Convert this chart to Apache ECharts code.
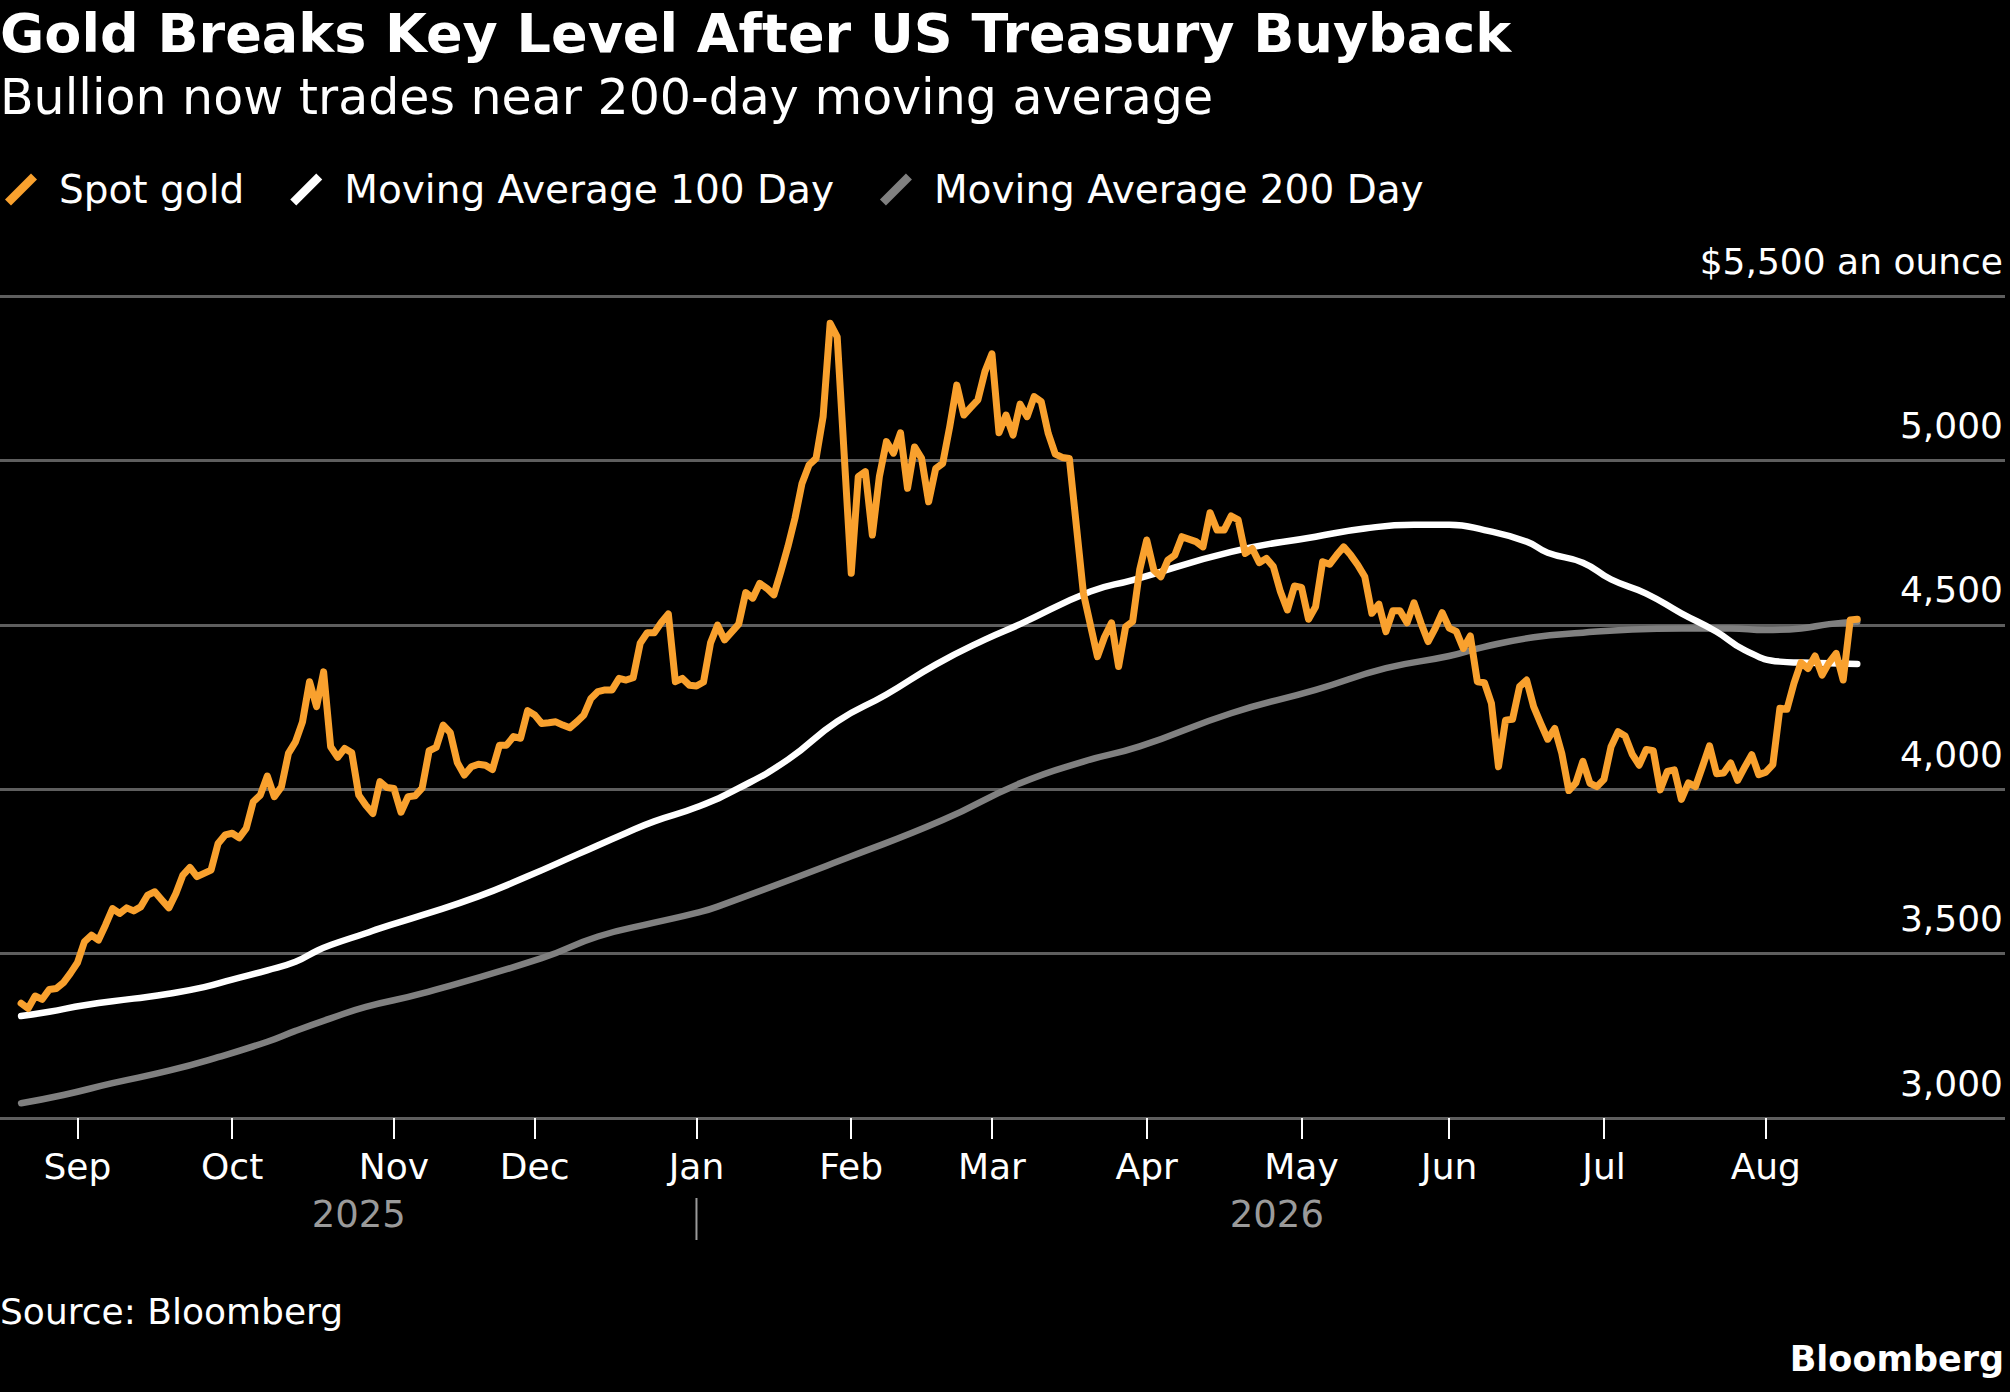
<!DOCTYPE html>
<html>
<head>
<meta charset="utf-8">
<title>Gold Breaks Key Level After US Treasury Buyback</title>
<script src="https://cdn.jsdelivr.net/npm/echarts@6/dist/echarts.min.js"></script>
<style>
  html, body { margin: 0; padding: 0; background: #000; }
  #main { width: 2010px; height: 1392px; }
</style>
</head>
<body>
<div id="main"></div>
<script>
// category range of the weekday axis (a few empty days pad both ends)
var AXIS_FROM = '2025-08-15';
var AXIS_TO = '2026-09-18';
var SPOT_START = '2025-08-20';
var SPOT_END = '2026-08-20';

// spot gold, one value per weekday from SPOT_START (null = not read)
var spotGold = [
  3349, 3333, 3371, 3361, 3391, 3394, 3411, 3440, 3472, 3536,
  3556, 3541, 3587, 3637, 3622, 3639, 3630, 3642, 3678, 3688,
  3663, 3639, 3683, 3739, 3762, 3734, null, 3754, 3835, 3861,
  3866, 3852, 3881, 3962, 3982, 4040, 3977, 4007, 4109, 4144,
  4205, 4327, 4251, 4357, 4129, 4097, 4124, 4111, 3982, 3951,
  3926, 4023, 4005, 4002, 3930, 3977, 3980, 4003, 4117, 4127,
  4195, 4172, 4081, 4043, 4068, 4076, 4073, 4060, 4134, 4134,
  4160, 4155, 4239, 4226, 4200, 4202, 4205, 4195, 4187, 4205,
  4226, 4276, 4297, 4302, 4302, 4337, 4332, 4339, 4444, 4476,
  4476, 4507, 4533, 4327, 4337, 4316, 4314, 4326, 4445, 4499,
  4454, null, 4502, 4598, 4581, 4626, 4611, 4591, 4662, 4738,
  4824, 4930, 4986, 5006, 5133, 5417, 5376, null, 4657, 4951,
  4966, 4773, 4951, 5057, 5022, 5084, 4915, 5041, 5006, 4874,
  4975, 4991, 5103, 5229, 5138, 5161, 5184, 5270, 5324, 5084,
  5138, 5077, 5171, 5133, 5194, 5179, 5082, 5019, 5009, 5006,
  null, 4596, null, 4403, 4463, 4506, 4373, 4494, 4510, 4667,
  4758, 4667, 4646, 4697, 4712, 4768, null, 4753, 4737, 4841,
  4788, 4788, 4831, 4819, 4717, 4732, 4689, 4702, 4677, 4601,
  4545, 4618, 4614, 4517, 4555, 4692, 4684, 4712, 4737, 4712,
  4682, 4646, 4535, 4563, 4479, 4543, 4543, 4506, 4567, 4504,
  4449, 4489, 4537, 4490, 4480, 4428, 4466, 4327, 4324, 4261,
  4068, 4210, 4213, 4312, 4332, 4251, 4200, 4152, 4185, 4109,
  3996, 4019, 4085, 4018, 4008, 4030, 4129, 4175, 4162, 4107,
  4073, 4121, 4117, 3998, 4054, 4059, 3969, 4019, 4008, 4069,
  4132, 4047, 4049, 4080, 4027, 4067, 4105, 4044, 4052, 4075,
  4246, 4243, 4322, 4385, 4367, 4405, 4347, 4385, 4413, 4332,
  4515, 4517
];

// moving averages, read at points along the curves
var ma100 = [
  ['2025-08-20', 3310], ['2025-08-26', 3323], ['2025-09-02', 3343], ['2025-09-11', 3363],
  ['2025-09-18', 3378], ['2025-09-25', 3398], ['2025-10-01', 3421], ['2025-10-08', 3449],
  ['2025-10-14', 3475], ['2025-10-17', 3508], ['2025-10-21', 3526], ['2025-10-28', 3562],
  ['2025-10-30', 3577], ['2025-11-07', 3617], ['2025-11-19', 3674], ['2025-11-28', 3735],
  ['2025-12-09', 3801], ['2025-12-18', 3867], ['2025-12-24', 3902], ['2026-01-01', 3945],
  ['2026-01-09', 4003], ['2026-01-20', 4090], ['2026-01-29', 4206], ['2026-02-09', 4288],
  ['2026-02-18', 4379], ['2026-02-27', 4455], ['2026-03-06', 4502], ['2026-03-20', 4601],
  ['2026-03-30', 4636], ['2026-04-17', 4722], ['2026-05-05', 4768], ['2026-05-14', 4793],
  ['2026-05-25', 4804], ['2026-06-01', 4804], ['2026-06-08', 4788], ['2026-06-16', 4753],
  ['2026-06-19', 4719], ['2026-06-26', 4689], ['2026-07-02', 4638], ['2026-07-09', 4595],
  ['2026-07-16', 4535], ['2026-07-23', 4479], ['2026-07-29', 4423], ['2026-08-05', 4388],
  ['2026-08-10', 4385], ['2026-08-14', 4383], ['2026-08-20', 4381]
];

var ma200 = [
  ['2025-08-20', 3045], ['2025-08-28', 3070], ['2025-09-08', 3106], ['2025-09-18', 3144],
  ['2025-09-29', 3185], ['2025-10-08', 3232], ['2025-10-14', 3265], ['2025-10-21', 3303],
  ['2025-10-28', 3338], ['2025-11-07', 3379], ['2025-12-02', 3486], ['2025-12-12', 3552],
  ['2025-12-24', 3594], ['2026-01-01', 3624], ['2026-01-06', 3643], ['2026-02-02', 3796],
  ['2026-02-19', 3906], ['2026-03-06', 4018], ['2026-03-19', 4084], ['2026-03-31', 4130],
  ['2026-04-17', 4231], ['2026-05-05', 4302], ['2026-05-19', 4368], ['2026-06-01', 4405],
  ['2026-06-08', 4433], ['2026-06-17', 4462], ['2026-06-26', 4476], ['2026-07-07', 4486],
  ['2026-07-16', 4489], ['2026-07-27', 4489], ['2026-08-03', 4484], ['2026-08-10', 4489],
  ['2026-08-14', 4502], ['2026-08-20', 4509]
];

var yTicks = [3000, 3500, 4000, 4500, 5000, 5500];
var monthNames = ['Jan', 'Feb', 'Mar', 'Apr', 'May', 'Jun', 'Jul', 'Aug', 'Sep', 'Oct', 'Nov', 'Dec'];
var seriesNames = ['Spot gold', 'Moving Average 100 Day', 'Moving Average 200 Day'];
var seriesColors = ['#f9a12e', '#ffffff', '#808080'];

var FONT = 'DejaVu Sans';

function weekdays(from, to) {
  var out = [];
  var d = new Date(from + 'T00:00:00Z');
  var end = new Date(to + 'T00:00:00Z');
  while (d <= end) {
    var w = d.getUTCDay();
    if (w !== 0 && w !== 6) out.push(d.toISOString().slice(0, 10));
    d.setUTCDate(d.getUTCDate() + 1);
  }
  return out;
}

var days = weekdays(AXIS_FROM, AXIS_TO);
var spotOffset = days.indexOf(SPOT_START);
var spotData = days.map(function (d, i) {
  var k = i - spotOffset;
  return (k >= 0 && k < spotGold.length) ? spotGold[k] : null;
});

// first weekday of each month, inside the data span
function isMonthStart(index) {
  if (index === 0) return false;
  var d = days[index];
  if (d > SPOT_END) return false;
  return d.slice(5, 7) !== days[index - 1].slice(5, 7);
}

var slash = 'path://M0,26 L26,0 L32,6 L6,32 Z';

var chart = echarts.init(document.getElementById('main'), null, { renderer: 'svg' });

option = {
  backgroundColor: '#000000',
  animation: false,
  textStyle: { fontFamily: FONT },
  grid: { left: 0, right: 5, top: 296, bottom: 274, containLabel: false },
  legend: {
    left: 0,
    top: 165,
    itemWidth: 36,
    itemHeight: 32,
    itemGap: 46,
    selectedMode: false,
    textStyle: { color: '#ffffff', fontSize: 39, fontFamily: FONT, padding: [0, 0, 0, 15] },
    data: seriesNames.map(function (n, i) {
      return { name: n, icon: slash, itemStyle: { color: seriesColors[i] } };
    })
  },
  xAxis: {
    type: 'category',
    data: days,
    boundaryGap: false,
    axisLine: { show: false },
    axisTick: {
      show: true,
      alignWithLabel: true,
      interval: function (index) { return isMonthStart(index); },
      length: 21,
      lineStyle: { color: '#ffffff', width: 2 }
    },
    axisLabel: {
      interval: function (index) { return isMonthStart(index); },
      formatter: function (v) { return monthNames[parseInt(v.slice(5, 7), 10) - 1]; },
      color: '#ffffff',
      fontSize: 36,
      fontFamily: FONT,
      margin: 30
    },
    splitLine: { show: false }
  },
  yAxis: {
    type: 'value',
    position: 'right',
    min: yTicks[0],
    max: yTicks[yTicks.length - 1],
    interval: 500,
    axisLine: { show: false },
    axisTick: { show: false },
    splitLine: { show: true, lineStyle: { color: '#5e5e5e', width: 3 } },
    axisLabel: {
      inside: true,
      margin: 2,
      color: '#ffffff',
      fontSize: 36,
      fontFamily: FONT,
      verticalAlign: 'bottom',
      padding: [0, 0, 17, 0],
      formatter: function (v) {
        var s = v.toLocaleString('en-US');
        return v === yTicks[yTicks.length - 1] ? '$' + s + ' an ounce' : s;
      }
    }
  },
  series: [
    {
      name: seriesNames[2],
      type: 'line',
      data: ma200,
      smooth: 0.5,
      showSymbol: false,
      lineStyle: { color: seriesColors[2], width: 6.5, cap: 'round', join: 'round' },
      itemStyle: { color: seriesColors[2] },
      z: 2
    },
    {
      name: seriesNames[1],
      type: 'line',
      data: ma100,
      smooth: 0.5,
      showSymbol: false,
      lineStyle: { color: seriesColors[1], width: 6.5, cap: 'round', join: 'round' },
      itemStyle: { color: seriesColors[1] },
      z: 3
    },
    {
      name: seriesNames[0],
      type: 'line',
      data: spotData,
      connectNulls: true,
      showSymbol: false,
      lineStyle: { color: seriesColors[0], width: 7, cap: 'round', join: 'round' },
      itemStyle: { color: seriesColors[0] },
      z: 4
    }
  ]
};

chart.setOption(option);

// texts around the plot; the year captions follow the axis positions
var xStart = chart.convertToPixel({ xAxisIndex: 0 }, SPOT_START);
var xYear = chart.convertToPixel({ xAxisIndex: 0 }, '2026-01-01');
var xEnd = chart.convertToPixel({ xAxisIndex: 0 }, SPOT_END);

chart.setOption({
  graphic: [
    { type: 'text', x: 0, y: 33, style: { text: 'Gold Breaks Key Level After US Treasury Buyback', fill: '#ffffff', font: 'bold 54px "DejaVu Sans"', align: 'left', verticalAlign: 'middle' } },
    { type: 'text', x: 0, y: 97, style: { text: 'Bullion now trades near 200-day moving average', fill: '#ffffff', font: '49px "DejaVu Sans"', align: 'left', verticalAlign: 'middle' } },
    { type: 'text', x: (xStart + xYear) / 2, y: 1214, style: { text: '2025', fill: '#9a9a9a', font: '37px "DejaVu Sans"', align: 'center', verticalAlign: 'middle' } },
    { type: 'text', x: (xYear + xEnd) / 2, y: 1214, style: { text: '2026', fill: '#9a9a9a', font: '37px "DejaVu Sans"', align: 'center', verticalAlign: 'middle' } },
    { type: 'line', shape: { x1: xYear, y1: 1198, x2: xYear, y2: 1240 }, style: { stroke: '#9a9a9a', lineWidth: 2 } },
    { type: 'text', x: 0, y: 1311, style: { text: 'Source: Bloomberg', fill: '#ffffff', font: '36px "DejaVu Sans"', align: 'left', verticalAlign: 'middle' } },
    { type: 'text', x: 2004, y: 1359, style: { text: 'Bloomberg', fill: '#ffffff', font: 'bold 35px "DejaVu Sans"', align: 'right', verticalAlign: 'middle' } }
  ]
});
</script>
</body>
</html>
